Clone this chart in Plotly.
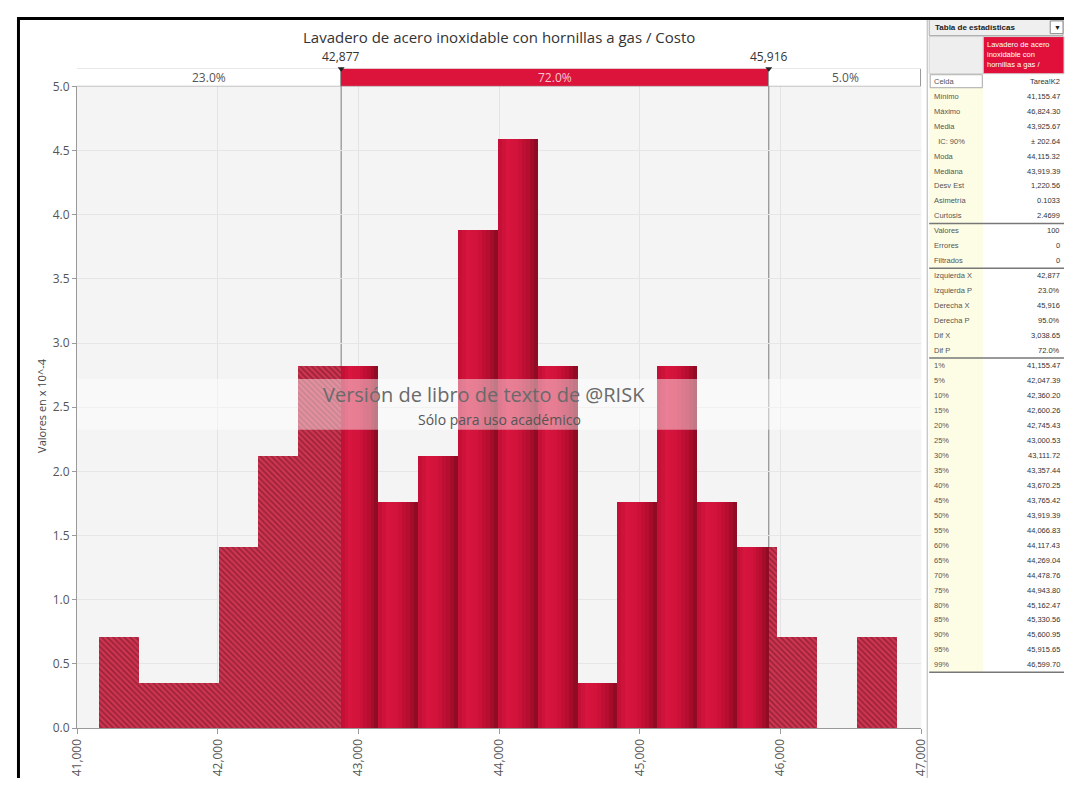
import numpy as np
import plotly.graph_objects as go

# ---------------- data ----------------
title_text = "Lavadero de acero inoxidable con hornillas a gas / Costo"
y_title = "Valores en x 10^-4"
bin_min = 41155.47
bin_max = 46824.30
density = [0.71, 0.35, 0.35, 1.41, 2.12, 2.82, 2.82, 1.76, 2.12, 3.88,
           4.59, 2.82, 0.35, 1.76, 2.82, 1.76, 1.41, 0.71, 0.0, 0.71]
left_x = 42877
right_x = 45916
axis_lo = 41000
axis_hi = 47000
region_pct = ["23.0%", "72.0%", "5.0%"]
x_ticks = [41000, 42000, 43000, 44000, 45000, 46000, 47000]
y_ticks = [0.0, 0.5, 1.0, 1.5, 2.0, 2.5, 3.0, 3.5, 4.0, 4.5, 5.0]
watermark_1 = "Versión de libro de texto de @RISK"
watermark_2 = "Sólo para uso académico"

stat_labels = ["Celda", "Mínimo", "Máximo", "Media", "  IC: 90%", "Moda", "Mediana",
               "Desv Est", "Asimetría", "Curtosis", "Valores", "Errores", "Filtrados",
               "Izquierda X", "Izquierda P", "Derecha X", "Derecha P", "Dif X", "Dif P",
               "1%", "5%", "10%", "15%", "20%", "25%", "30%", "35%", "40%", "45%",
               "50%", "55%", "60%", "65%", "70%", "75%", "80%", "85%", "90%", "95%", "99%"]
stat_values = ["Tarea!K2", "41,155.47", "46,824.30", "43,925.67", "± 202.64", "44,115.32",
               "43,919.39", "1,220.56", "0.1033", "2.4699", "100", "0", "0",
               "42,877", "23.0%", "45,916", "95.0%", "3,038.65", "72.0%",
               "41,155.47", "42,047.39", "42,360.20", "42,600.26", "42,745.43", "43,000.53",
               "43,111.72", "43,357.44", "43,670.25", "43,765.42", "43,919.39", "44,066.83",
               "44,117.43", "44,269.04", "44,478.76", "44,943.80", "45,162.47", "45,330.56",
               "45,600.95", "45,915.65", "46,599.70"]
stat_groups_end = [10, 13, 19, 40]   # rows after which a separator is drawn
table_head = "Tabla de estadísticas"
table_series = "Lavadero de acero<br>inoxidable con<br>hornillas a gas /"

# ---------------- geometry helpers ----------------
# page has an 8px body margin; figure is sized so the page fits the 1080x794 window
OFF = 8
W, H = 1080 - 2 * OFF, 794 - 2 * OFF
def px(x):
    return min(max((x - OFF) / W, 0.0), 1.0)
def py(y):
    return min(max(1 - (y - OFF) / H, 0.0), 1.0)

FONT = "Open Sans"
TFONT = "Liberation Sans"

def lerp_color(c1, c2, t):
    a = [int(c1[i:i + 2], 16) for i in (1, 3, 5)]
    b = [int(c2[i:i + 2], 16) for i in (1, 3, 5)]
    return "#" + "".join(f"{round(a[j] + (b[j] - a[j]) * t):02x}" for j in range(3))

stops = [(0.0, "#bf0f34"), (0.25, "#d8153f"), (0.5, "#d0123a"), (0.78, "#b30d2e"), (1.0, "#860a21")]
n_strips = 10
strip_colors = []
for k in range(n_strips):
    t = (k + 0.5) / n_strips
    for (t0, c0), (t1, c1) in zip(stops[:-1], stops[1:]):
        if t0 <= t <= t1:
            strip_colors.append(lerp_color(c0, c1, (t - t0) / (t1 - t0)))
            break

edges = np.linspace(bin_min, bin_max, len(density) + 1)
strips = [dict(x=[], y=[], w=[]) for _ in range(n_strips)]
hatch = dict(x=[], y=[], w=[])
for i, d in enumerate(density):
    lo, hi = edges[i], edges[i + 1]
    pts = [lo] + [b for b in (left_x, right_x) if lo < b < hi] + [hi]
    for a, b in zip(pts[:-1], pts[1:]):
        mid = (a + b) / 2
        if mid < left_x or mid > right_x:
            hatch["x"].append(mid); hatch["y"].append(d); hatch["w"].append(b - a)
        else:
            sw = (b - a) / n_strips
            for k in range(n_strips):
                strips[k]["x"].append(a + sw * (k + 0.5))
                strips[k]["y"].append(d)
                strips[k]["w"].append(sw * 1.05)

fig = go.Figure()
for k in range(n_strips):
    fig.add_trace(go.Bar(x=strips[k]["x"], y=strips[k]["y"], width=strips[k]["w"],
                         marker=dict(color=strip_colors[k], line=dict(width=0)),
                         xaxis="x", yaxis="y", showlegend=False, hoverinfo="skip"))
fig.add_trace(go.Bar(x=hatch["x"], y=hatch["y"], width=hatch["w"],
                     marker=dict(color="#cf3450", line=dict(width=0),
                                 pattern=dict(shape="\\", fgcolor="#5e1220", bgcolor="#cf3450",
                                              size=4, solidity=0.4)),
                     xaxis="x", yaxis="y", showlegend=False, hoverinfo="skip"))

# top probability bar
seg_base = [axis_lo, left_x, right_x]
seg_len = [left_x - axis_lo, right_x - left_x, axis_hi - right_x]
fig.add_trace(go.Bar(orientation="h", y=[0, 0, 0], x=seg_len, base=seg_base, width=1,
                     marker=dict(color=["#ffffff", "#dc143c", "#ffffff"],
                                 line=dict(color="#9a9a9a", width=1)),
                     xaxis="x", yaxis="y2", showlegend=False, hoverinfo="skip"))
fig.add_trace(go.Scatter(x=[left_x, right_x], y=[0.5, 0.5], mode="markers",
                         marker=dict(symbol="triangle-down", size=6, color="#222222"),
                         xaxis="x", yaxis="y2", cliponaxis=False, showlegend=False,
                         hoverinfo="skip"))

def ann(x, y, text, size, color, family=FONT, xanchor="center", yanchor="middle", **kw):
    d = dict(x=px(x), y=py(y), xref="paper", yref="paper", text=text, showarrow=False,
             xanchor=xanchor, yanchor=yanchor, font=dict(size=size, color=color, family=family))
    d.update(kw)
    return d

annotations = []
pct_colors = ["#555555", "#f6c8d2", "#555555"]
for b, l, t, c in zip(seg_base, seg_len, region_pct, pct_colors):
    annotations.append(dict(x=b + l / 2, xref="x", y=0, yref="y2", text=t, showarrow=False,
                            xanchor="center", yanchor="middle",
                            font=dict(size=12, color=c, family=FONT)))
for v in (left_x, right_x):
    annotations.append(dict(x=v, xref="x", y=py(48), yref="paper", text=f"{v:,}",
                            xanchor="center", yanchor="middle",
                            showarrow=False, font=dict(size=12, color="#333333", family=FONT)))

annotations += [
    ann(498, 28, title_text, 15, "#333333"),
    ann(33, 405, y_title, 11, "#444444", textangle=-90),
    ann(483, 394, watermark_1, 20, "#6a6a6a"),
    ann(498, 419, watermark_2, 14, "#555555"),
    ann(939, 18.5, "<b>" + table_head + "</b>", 8, "#222222", family=TFONT, xanchor="left"),
    ann(1065, 18.5, "▼", 7, "#222222", family=TFONT),
    ann(992, 29, table_series, 7.5, "#ffffff", family=TFONT, xanchor="left", yanchor="top",
        align="left"),
]

head_top = 28
head_bot = 66
row_h = 15.3
col_split = 990
n_rows = len(stat_labels)
table_bot = head_bot + n_rows * row_h

shapes = [
    dict(type="line", xref="x", yref="paper", x0=left_x, x1=left_x, y0=py(735), y1=py(61),
         line=dict(color="#7a7a7a", width=1), layer="below"),
    dict(type="line", xref="x", yref="paper", x0=right_x, x1=right_x, y0=py(735), y1=py(61),
         line=dict(color="#7a7a7a", width=1), layer="below"),
    dict(type="rect", xref="paper", yref="paper", x0=px(69), x1=px(927), y0=py(430), y1=py(378),
         fillcolor="rgba(255,255,255,0.45)", line=dict(width=0), layer="above"),
    # stats panel
    dict(type="rect", xref="paper", yref="paper", x0=px(935), x1=px(1071), y0=py(27), y1=py(10),
         fillcolor="#efefef", line=dict(color="#aaaaaa", width=1)),
    dict(type="rect", xref="paper", yref="paper", x0=px(1058), x1=px(1071), y0=py(25), y1=py(12),
         fillcolor="#ffffff", line=dict(color="#888888", width=1)),
    dict(type="rect", xref="paper", yref="paper", x0=px(935), x1=px(col_split), y0=py(head_bot), y1=py(head_top),
         fillcolor="#eeeeee", line=dict(color="#d0d0d0", width=1)),
    dict(type="rect", xref="paper", yref="paper", x0=px(col_split), x1=1, y0=py(head_bot), y1=py(head_top),
         fillcolor="#e0103a", line=dict(color="#d0d0d0", width=1)),
    dict(type="rect", xref="paper", yref="paper", x0=px(935), x1=px(col_split), y0=py(table_bot),
         y1=py(head_bot), fillcolor="#fdfde6", line=dict(width=0), layer="below"),
    dict(type="rect", xref="paper", yref="paper", x0=px(936), x1=px(col_split - 1),
         y0=py(head_bot + row_h - 1), y1=py(head_bot + 1), fillcolor="#ffffff",
         line=dict(color="#a8a8a8", width=1), layer="below"),
    dict(type="line", xref="paper", yref="paper", x0=px(933), x1=px(933), y0=0, y1=1,
         line=dict(color="#b5b5b5", width=1)),
    dict(type="line", xref="paper", yref="paper", x0=0, x1=1, y0=1 - 1.5 / H, y1=1 - 1.5 / H,
         line=dict(color="#000000", width=3)),
    dict(type="line", xref="paper", yref="paper", x0=1.5 / W, x1=1.5 / W, y0=0, y1=1,
         line=dict(color="#000000", width=3)),
]
for n in stat_groups_end:
    yy = head_bot + n * row_h
    shapes.append(dict(type="line", xref="paper", yref="paper", x0=px(935), x1=1,
                       y0=py(yy), y1=py(yy), line=dict(color="#777777", width=1.5)))

for i, (lab, val) in enumerate(zip(stat_labels, stat_values)):
    yc = head_bot + (i + 0.5) * row_h
    annotations.append(ann(938, yc, lab, 7.5, "#555555", family=TFONT, xanchor="left"))
    annotations.append(ann(1070, yc, val, 7.5, "#333333", family=TFONT, xanchor="right"))

fig.update_layout(
    width=W, height=H,
    margin=dict(l=0, r=0, t=0, b=0),
    paper_bgcolor="#ffffff",
    plot_bgcolor="#f4f4f4",
    barmode="overlay",
    bargap=0,
    showlegend=False,
    font=dict(family=FONT, color="#555555"),
    xaxis=dict(domain=[px(69), px(927)], range=[axis_lo, axis_hi], anchor="y",
               tickvals=x_ticks, tickformat=",d", tickangle=-90,
               tickfont=dict(size=12, color="#555555"),
               showgrid=True, gridcolor="#e3e3e3", zeroline=False,
               showline=True, linecolor="#9a9a9a", ticks="outside", ticklen=5,
               tickcolor="#9a9a9a"),
    yaxis=dict(domain=[py(735), py(79)], range=[0, 5], anchor="x",
               tickvals=y_ticks, tickformat=".1f",
               tickfont=dict(size=12, color="#555555"),
               showgrid=True, gridcolor="#e6e6e6", zeroline=False,
               showline=True, linecolor="#9a9a9a", ticks="outside", ticklen=4,
               tickcolor="#9a9a9a"),
    yaxis2=dict(domain=[py(79), py(61)], range=[-0.5, 0.5], anchor="x", visible=False),
    annotations=annotations,
    shapes=shapes,
)

fig.write_html("out.html")
